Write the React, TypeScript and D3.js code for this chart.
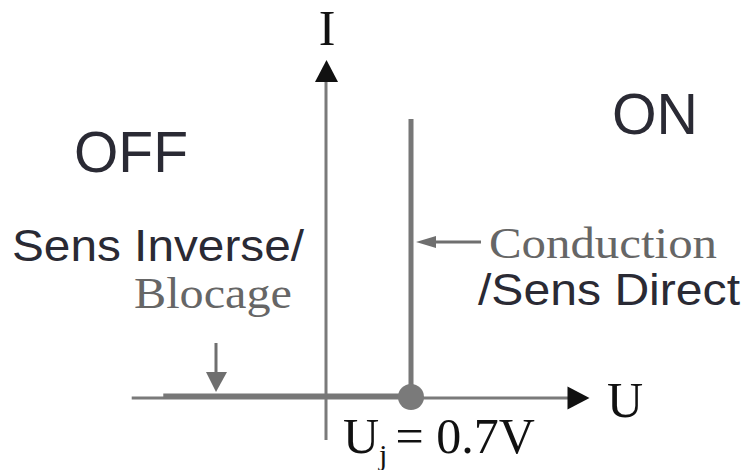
import React from "react";
import * as d3 from "d3";

// Diode characteristic (U in volts, I normalised)
const curveU = [-1.34, 0.7, 0.7];
const curveI = [0, 0, 1];
const thresholdU = 0.7;
const axisU = [-1.6, 2.17];
const axisI = [-0.155, 1.217];

const W = 748;
const H = 470;

export default function App() {
  const x = d3.scaleLinear().domain([0, 0.7]).range([326, 411]);
  const y = d3.scaleLinear().domain([0, 1]).range([397, 120]);
  const line = d3
    .line<[number, number]>()
    .x((d) => x(d[0]))
    .y((d) => y(d[1]));
  const pts: [number, number][] = curveU.map((u, i) => [u, curveI[i]]);

  const sans = "'Liberation Sans', Arial, Helvetica, sans-serif";
  const serif = "'Liberation Serif', 'Times New Roman', serif";
  const dark = "#2a2a34";
  const gray = "#6f6f6f";

  const x0 = x(axisU[0]);
  const x1 = x(axisU[1]);
  const y0 = y(0);
  const yb = y(axisI[0]);
  const yt = y(axisI[1]);
  const xv = x(0);

  return (
    <svg
      width={W}
      height={H}
      style={{ position: "absolute", left: 0, top: 0, display: "block", background: "#fff" }}
    >
      {/* horizontal axis */}
      <line x1={x0} y1={y0 + 1} x2={x1 - 20} y2={y0 + 1} stroke="#7a7a7a" strokeWidth={3} />
      <path d={`M${x1},${y0 + 1} L${x1 - 22},${y0 - 10.5} L${x1 - 22},${y0 + 12.5} Z`} fill="#111" />
      {/* vertical axis */}
      <line x1={xv} y1={yb} x2={xv} y2={yt + 20} stroke="#7a7a7a" strokeWidth={3} />
      <path d={`M${xv + 0.5},${yt} L${xv - 11},${yt + 22} L${xv + 12},${yt + 22} Z`} fill="#111" />

      {/* characteristic */}
      <path d={line(pts) || ""} fill="none" stroke="#777" strokeWidth={5} strokeLinejoin="miter" transform="translate(0,-1)" />
      <circle cx={x(thresholdU)} cy={y0} r={13} fill="#7a7a7a" />

      {/* down arrow (blocage) */}
      <line x1={216} y1={343} x2={216} y2={375} stroke={gray} strokeWidth={3} />
      <path d={`M216,392 L206,372 L227,372 Z`} fill={gray} />
      {/* left arrow (conduction) */}
      <line x1={432} y1={242} x2={481} y2={242} stroke={gray} strokeWidth={3} />
      <path d={`M416,242 L436,236 L436,248 Z`} fill={gray} />

      {/* axis labels */}
      <text x={327} y={45} fontFamily={serif} fontSize={50} fill="#111" textAnchor="middle">I</text>
      <text x={607} y={417} fontFamily={serif} fontSize={50} fill="#111">U</text>

      {/* region labels */}
      <text x={74} y={172} fontFamily={sans} fontSize={58} fill={dark} textLength={114} lengthAdjust="spacingAndGlyphs">OFF</text>
      <text x={612} y={134} fontFamily={sans} fontSize={58} fill={dark} textLength={86} lengthAdjust="spacingAndGlyphs">ON</text>

      <text x={12} y={261} fontFamily={sans} fontSize={44} fill={dark} textLength={292} lengthAdjust="spacingAndGlyphs">Sens Inverse/</text>
      <text x={134} y={308} fontFamily={serif} fontSize={45} fill="#666" textLength={158} lengthAdjust="spacingAndGlyphs">Blocage</text>

      <text x={489} y={258} fontFamily={serif} fontSize={45} fill="#666" textLength={228} lengthAdjust="spacingAndGlyphs">Conduction</text>
      <text x={478} y={305} fontFamily={sans} fontSize={44} fill={dark} textLength={262} lengthAdjust="spacingAndGlyphs">/Sens Direct</text>

      {/* threshold label */}
      <text x={343} y={453} fontFamily={serif} fontSize={50} fill="#111">
        <tspan>U</tspan>
        <tspan fontSize={30} dy={12}>j</tspan>
        <tspan dy={-12} dx={8}>= 0.7V</tspan>
      </text>
    </svg>
  );
}
